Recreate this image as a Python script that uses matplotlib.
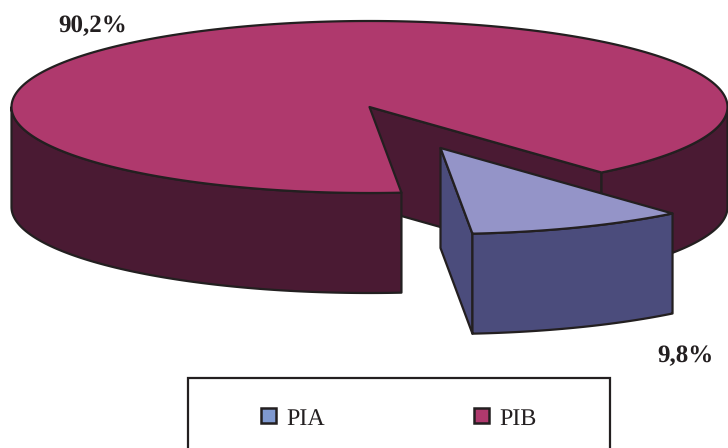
"""Torta 3D PIA / PIB"""
import numpy as np
import matplotlib
matplotlib.use("Agg")
import matplotlib.pyplot as plt
from matplotlib.patches import Polygon, Rectangle

CATEGORIES = ["PIA", "PIB"]
SHARES = [9.8, 90.2]
SHARE_LABELS = ["9,8%", "90,2%"]

TOP_COLORS = ["#9494C8", "#AF396D"]
SIDE_COLORS = ["#4B4C7C", "#4A1A33"]
LEGEND_COLORS = ["#7F99D0", "#AF396D"]
EDGE = "#231F20"

CX, CY = 369.5, 107.0
RX, RY = 358.0, 86.0
DEPTH = 100.0
START = np.radians(-49.6)  # bordo destro della fetta PIA
OFFSET = (71.0, 41.0)      # fetta PIA estratta

plt.rcParams["font.family"] = ["Liberation Serif", "DejaVu Serif"]
plt.rcParams["text.hinting"] = "none"

fig = plt.figure(figsize=(7.28, 4.48), dpi=100)
ax = fig.add_axes([0, 0, 1, 1])
ax.set_xlim(0, 728)
ax.set_ylim(448, 0)
ax.axis("off")


def rim(a0, a1, dx=0.0, dy=0.0, n=200):
    t = np.linspace(a0, a1, n)
    return np.column_stack([CX + dx + RX * np.cos(t), CY + dy + RY * np.sin(-t)])


def poly(points, color, z, lw=1.6):
    ax.add_patch(Polygon(points, closed=True, facecolor=color, edgecolor=EDGE,
                         linewidth=lw, joinstyle="round", clip_on=False, zorder=z))


sweep = 2 * np.pi * SHARES[0] / sum(SHARES)
a_right = START
a_left = START - sweep
down = np.array([0.0, DEPTH])
center = np.array([CX, CY])

# fetta grande: parete interna vista dentro il taglio
p_right = rim(a_right, a_right, n=1)[0]
poly([center, p_right, p_right + down, center + down], SIDE_COLORS[1], 1)

# parete esterna a destra del taglio
arc = rim(a_right, 0)
poly(np.vstack([arc, (arc + down)[::-1]]), SIDE_COLORS[1], 2)

# parete esterna a sinistra del taglio
arc = rim(a_left, -np.pi)
poly(np.vstack([arc, (arc + down)[::-1]]), SIDE_COLORS[1], 2)

# piano superiore
poly(np.vstack([[center], rim(a_right, a_left + 2 * np.pi, n=600)]), TOP_COLORS[1], 3)

# fetta piccola estratta
dx, dy = OFFSET
apex = center + np.array(OFFSET)
arc = rim(a_left, a_right, dx, dy)
poly([apex, arc[0], arc[0] + down, apex + down], SIDE_COLORS[0], 4)
poly(np.vstack([arc, (arc + down)[::-1]]), SIDE_COLORS[0], 5)
poly(np.vstack([[apex], arc]), TOP_COLORS[0], 6)

# etichette percentuali
ax.text(58, 32, SHARE_LABELS[1], ha="left", va="baseline", fontsize=18,
        fontweight="bold", color=EDGE)
ax.text(657, 362, SHARE_LABELS[0], ha="left", va="baseline", fontsize=18,
        fontweight="bold", color=EDGE)

# legenda
ax.add_patch(Rectangle((188, 378), 422, 90, facecolor="white", edgecolor=EDGE,
                       linewidth=1.6, clip_on=True, zorder=7))
for name, col, x0 in zip(CATEGORIES, LEGEND_COLORS, [261, 474]):
    ax.add_patch(Rectangle((x0, 408), 15, 15, facecolor=col, edgecolor=EDGE,
                           linewidth=1.8, zorder=8))
    ax.text(x0 + 25, 425, name, ha="left", va="baseline", fontsize=17.3, color=EDGE, zorder=8)

fig.savefig("out.png", dpi=100)
